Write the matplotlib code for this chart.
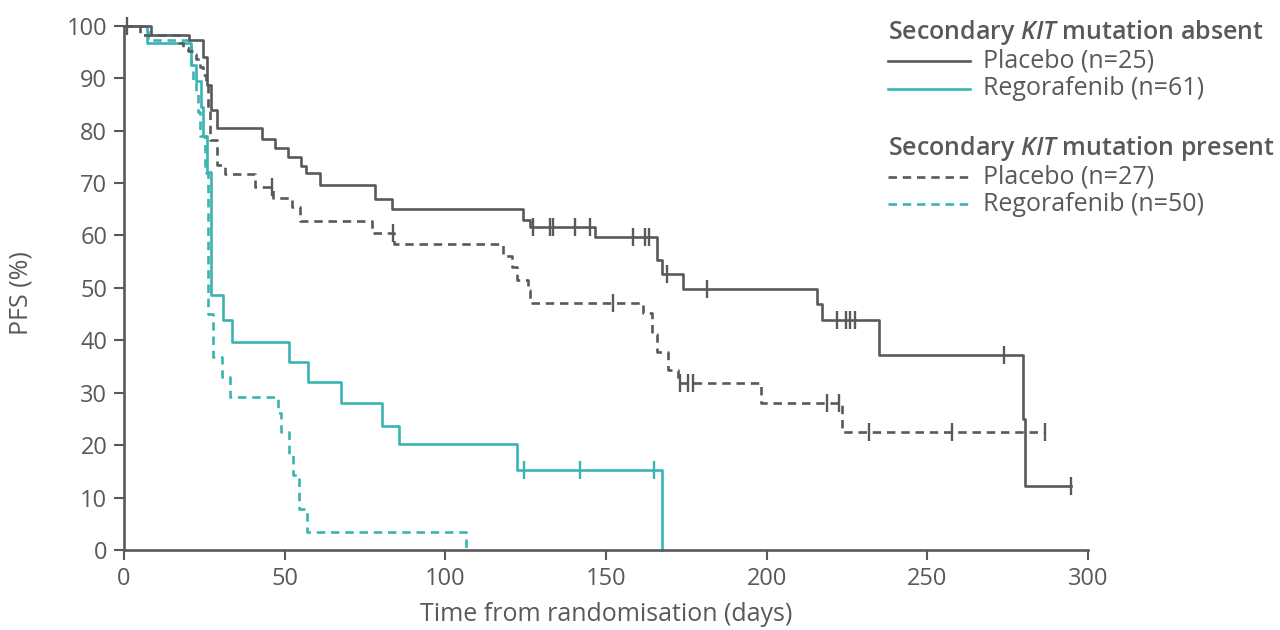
import numpy as np
import matplotlib.pyplot as plt
from matplotlib.lines import Line2D

plt.rcParams['font.family'] = ['Open Sans', 'DejaVu Sans']
plt.rcParams['mathtext.fontset'] = 'custom'
plt.rcParams['mathtext.bfit'] = 'Open Sans:italic:semibold'

GREY = '#58595b'
TEAL = '#3ab4b3'
TXT = '#58595b'

# placebo, secondary KIT mutation absent
pa_t = [0, 8.4, 20.2, 24.6, 25.7, 27.0, 28.8, 43, 47, 51, 55, 56.5, 61, 78, 83.5,
        124.2, 126.4, 146.6, 165.9, 167.4, 174, 215.7, 217.2, 235, 279.8, 280.4]
pa_s = [100, 98.3, 97.3, 94, 88.7, 84, 80.5, 78.5, 76.7, 75, 73.3, 72, 69.7, 67, 65,
        63, 61.6, 59.7, 55.3, 52.7, 49.8, 47, 43.9, 37.2, 25, 12.3]
pa_end = 294.7
pa_cens = [1, 127.3, 132.6, 133.5, 140.4, 145, 158.4, 162.2, 163.4, 169, 181.5,
           221.9, 224.7, 226, 227.5, 273.9, 294.7]

# regorafenib, secondary KIT mutation absent
ra_t = [0, 7, 20.8, 22.5, 24, 24.6, 25.7, 27.2, 30.9, 33.6, 51.4, 57.4, 67.5, 80.2,
        85.6, 122.3, 167.4]
ra_s = [100, 96.7, 92.6, 89.4, 84.6, 79, 72.2, 48.7, 43.9, 39.6, 35.9, 32, 28.1, 23.7,
        20.3, 15.3, 0]
ra_end = 167.4
ra_cens = [124.5, 141.9, 165]

# placebo, secondary KIT mutation present
pp_t = [0, 5, 17, 18.5, 20, 21.5, 22.5, 23.5, 24.5, 25.5, 26.2, 26.8, 28.8, 31.4,
        40.8, 46.4, 52.2, 54.8, 77.1, 84.1, 118, 120.7, 122.2, 125.8, 126.4, 161.4,
        164.2, 165.8, 169.4, 172.5, 198.2, 223.4]
pp_s = [100, 98.3, 96.8, 95.8, 95.2, 94.6, 93.6, 92.2, 90.6, 88.7, 84, 78.2, 73.4,
        71.8, 69.3, 67.2, 65.5, 62.8, 60.4, 58.3, 56, 54, 51.6, 49.6, 47.1, 45.2,
        41.3, 37.8, 34.4, 31.8, 28, 22.6]
pp_end = 286.6
pp_cens = [46.2, 83.8, 152.3, 173, 175.5, 177, 218.7, 222.6, 232, 257.8, 286.6]

# regorafenib, secondary KIT mutation present
rp_t = [0, 7.5, 20.3, 20.8, 21.5, 22.3, 23, 23.7, 25.2, 26.2, 27.8, 30.4, 33, 47.8,
        49, 51.5, 52.5, 54.5, 56.9, 106.5]
rp_s = [100, 97.3, 96, 92.6, 89, 87, 83.6, 79, 72, 45, 36.8, 33, 29.2, 26.1, 22.5,
        18.1, 14.3, 7.8, 3.5, 0]
rp_end = 106.5
rp_cens = []

fig = plt.figure(figsize=(12.8, 6.3), dpi=100)
ax = fig.add_axes([0.0969, 0.127, 0.753, 0.832])


def km(t, s, end, cens, color, ls):
    x = list(t) + [end]
    y = list(s) + [s[-1]]
    ax.step(x, y, where='post', color=color, lw=1.9, linestyle=ls, clip_on=False)
    if cens:
        idx = np.searchsorted(t, cens, side='right') - 1
        cy = np.array(s)[idx]
        ax.plot(cens, cy, ls='none', marker='|', ms=13, mew=1.7, color=color,
                clip_on=False)


dash = (0, (3.2, 2.2))
km(rp_t, rp_s, rp_end, rp_cens, TEAL, dash)
km(ra_t, ra_s, ra_end, ra_cens, TEAL, '-')
km(pp_t, pp_s, pp_end, pp_cens, GREY, dash)
km(pa_t, pa_s, pa_end, pa_cens, GREY, '-')

ax.set_xlim(0, 300)
ax.set_ylim(0, 100)
ax.set_xticks(range(0, 301, 50))
ax.set_yticks(range(0, 101, 10))
for sp in ['top', 'right']:
    ax.spines[sp].set_visible(False)
for sp in ['left', 'bottom']:
    ax.spines[sp].set_color(GREY)
    ax.spines[sp].set_linewidth(1.9)
ax.tick_params(colors=GREY, width=1.5, length=7, labelsize=17, labelcolor=TXT, pad=5)
ax.set_xlabel('Time from randomisation (days)', fontsize=18, color=TXT, labelpad=8)
ax.set_ylabel('PFS (%)', fontsize=18, color=TXT)
ax.yaxis.set_label_coords(-0.094, 0.49)

# legend
lx0, lx1, tx = 0.694, 0.758, 0.768
fig.text(lx0, 0.949, r'Secondary $\mathbfit{KIT}$ mutation absent', fontsize=18,
         fontweight='semibold', color=TXT, va='center')
fig.text(lx0, 0.765, r'Secondary $\mathbfit{KIT}$ mutation present', fontsize=18,
         fontweight='semibold', color=TXT, va='center')
items = [(0.903, GREY, '-', 'Placebo (n=25)'),
         (0.859, TEAL, '-', 'Regorafenib (n=61)'),
         (0.719, GREY, dash, 'Placebo (n=27)'),
         (0.676, TEAL, dash, 'Regorafenib (n=50)')]
for yy, c, ls, lab in items:
    fig.add_artist(Line2D([lx0, lx1], [yy, yy], color=c, lw=1.9, linestyle=ls,
                          transform=fig.transFigure))
    fig.text(tx, yy, lab, fontsize=18, color=TXT, va='center')

fig.savefig('out.png', dpi=100)
